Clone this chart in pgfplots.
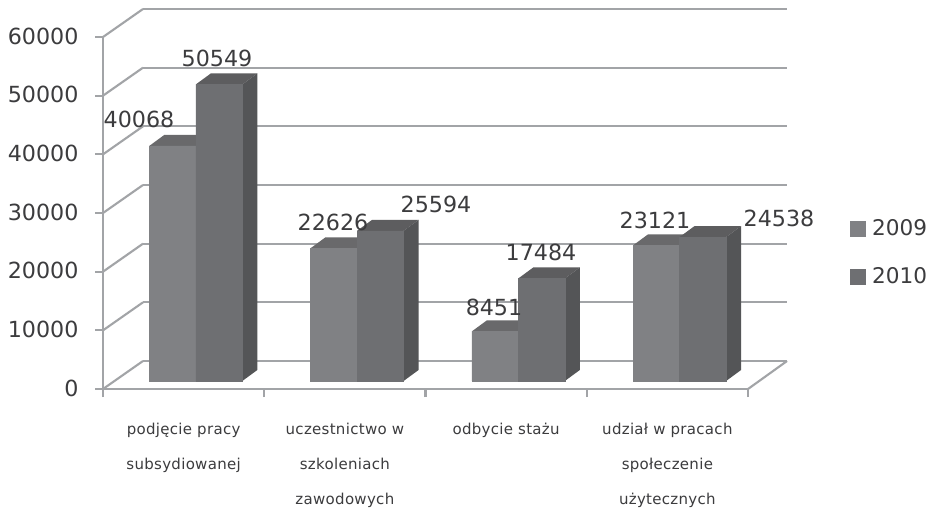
\documentclass[border=0pt]{standalone}
\usepackage{fontspec}
\setmainfont{DejaVu Sans}
\newfontfamily\catfont[LetterSpace=2]{DejaVu Sans}
\usepackage{pgfplots}
\pgfplotsset{compat=1.18}
\definecolor{gridc}{HTML}{A2A4A7}
\definecolor{txt}{HTML}{3C3C3E}
\definecolor{fa}{HTML}{808184}
\definecolor{fb}{HTML}{6E6F72}
\definecolor{ta}{HTML}{69696B}
\definecolor{tb}{HTML}{5D5D5F}
\definecolor{sb}{HTML}{545557}
\pgfplotsset{
  base/.style={scale only axis,width=645pt,height=352pt,xmin=0,xmax=4,ymin=0,ymax=60000,clip=false},
  wall/.style={forget plot,no marks,gridc,line width=2.1pt},
  depth/.style={forget plot,no marks,draw=none,fill=#1},
  front/.style={ybar,bar width=46.5pt,draw=#1,line width=0.3pt,fill=#1},
}
\begin{document}
\begin{tikzpicture}[x=1pt,y=1pt]
\path[use as bounding box,fill=white] (0,0) rectangle (933,-509);
\begin{axis}[base,at={(103pt,-389pt)},anchor=south west,
  axis lines=left,axis line style={-,gridc,line width=2.1pt},
  xtick={0,1,2,3,4},xticklabels={},
  ytick={0,10000,20000,30000,40000,50000,60000},
  scaled y ticks=false,
  tick style={gridc,line width=2.1pt},
  major tick length=8pt,
  tick align=outside,
  extra x ticks={0.5,1.5,2.5,3.5},
  extra x tick labels={podjęcie pracy\\subsydiowanej,uczestnictwo w\\szkoleniach\\zawodowych,odbycie stażu,udział w pracach\\społeczenie\\użytecznych},
  extra x tick style={major tick length=0pt,tick style={draw=none},
    xticklabel style={align=center,anchor=north,yshift=-31pt,
      font=\catfont\fontsize{15}{34.7}\selectfont,text=txt}},
  /pgf/number format/1000 sep={},
  /pgf/number format/assume math mode=true,
  yticklabel style={font=\fontsize{22.2}{24}\selectfont,text=txt,xshift=-13pt,yshift=1pt},
]
\addplot[wall] coordinates {(0.248,4773)(4.242,4773)};
\addplot[wall] coordinates {(0.248,14773)(4.242,14773)};
\addplot[wall] coordinates {(0.248,24773)(4.242,24773)};
\addplot[wall] coordinates {(0.248,34773)(4.242,34773)};
\addplot[wall] coordinates {(0.248,44773)(4.242,44773)};
\addplot[wall] coordinates {(0.248,54773)(4.242,54773)};
\addplot[wall] coordinates {(0.248,64773)(4.242,64773)};
\addplot[wall] coordinates {(0,0)(0.248,4773)};
\addplot[wall] coordinates {(0,10000)(0.248,14773)};
\addplot[wall] coordinates {(0,20000)(0.248,24773)};
\addplot[wall] coordinates {(0,30000)(0.248,34773)};
\addplot[wall] coordinates {(0,40000)(0.248,44773)};
\addplot[wall] coordinates {(0,50000)(0.248,54773)};
\addplot[wall] coordinates {(0,60000)(0.248,64773)};
\addplot[wall] coordinates {(4,0)(4.242,4773)};
\end{axis}
\begin{axis}[base,at={(103pt,-381pt)},anchor=south west,hide axis,
  legend style={at={(1.158,0.267)},anchor=south west,draw=none,fill=none,
    font=\fontsize{21.6}{24}\selectfont,text=txt,inner sep=0pt,outer sep=0pt,
    row sep=26pt},
  legend image code/.code={\fill[#1] (0pt,-7.5pt) rectangle (15pt,7.5pt);\path[draw=none,fill=none] (0pt,0pt) -- (20pt,0pt);},
  legend cell align=left,
]
% 2009 depth
\addplot[depth=ta] coordinates {(0.287,40068)(0.380,41943)(0.6685,41943)(0.5755,40068)} -- cycle;
\addplot[depth=ta] coordinates {(1.287,22626)(1.380,24501)(1.6685,24501)(1.5755,22626)} -- cycle;
\addplot[depth=ta] coordinates {(2.287,8451)(2.380,10326)(2.6685,10326)(2.5755,8451)} -- cycle;
\addplot[depth=ta] coordinates {(3.287,23121)(3.380,24996)(3.6685,24996)(3.5755,23121)} -- cycle;
% 2009 front
\addplot[front=fa,bar shift=-11pt] coordinates {(0.5,40068)(1.5,22626)(2.5,8451)(3.5,23121)};
\addlegendentry{2009}
% 2010 depth: tops
\addplot[depth=tb] coordinates {(0.5755,50549)(0.6685,52424)(0.957,52424)(0.864,50549)} -- cycle;
\addplot[depth=tb] coordinates {(1.5755,25594)(1.6685,27469)(1.957,27469)(1.864,25594)} -- cycle;
\addplot[depth=tb] coordinates {(2.5755,17484)(2.6685,19359)(2.957,19359)(2.864,17484)} -- cycle;
\addplot[depth=tb] coordinates {(3.5755,24538)(3.6685,26413)(3.957,26413)(3.864,24538)} -- cycle;
% 2010 depth: sides
\addplot[depth=sb] coordinates {(0.864,0)(0.957,1875)(0.957,52424)(0.864,50549)} -- cycle;
\addplot[depth=sb] coordinates {(1.864,0)(1.957,1875)(1.957,27469)(1.864,25594)} -- cycle;
\addplot[depth=sb] coordinates {(2.864,0)(2.957,1875)(2.957,19359)(2.864,17484)} -- cycle;
\addplot[depth=sb] coordinates {(3.864,0)(3.957,1875)(3.957,26413)(3.864,24538)} -- cycle;
% 2010 front
\addplot[front=fb,bar shift=35.5pt] coordinates {(0.5,50549)(1.5,25594)(2.5,17484)(3.5,24538)};
\addlegendentry{2010}
\end{axis}
\tikzset{lab/.style={font=\fontsize{22.2}{24}\selectfont,text=txt,inner sep=0pt}}
\node[lab] at (139,-119) {40068};
\node[lab] at (217,-58) {50549};
\node[lab] at (333,-222) {22626};
\node[lab] at (436,-204) {25594};
\node[lab] at (494,-307) {8451};
\node[lab] at (541,-252) {17484};
\node[lab] at (655,-220) {23121};
\node[lab] at (779,-218) {24538};
\end{tikzpicture}
\end{document}
